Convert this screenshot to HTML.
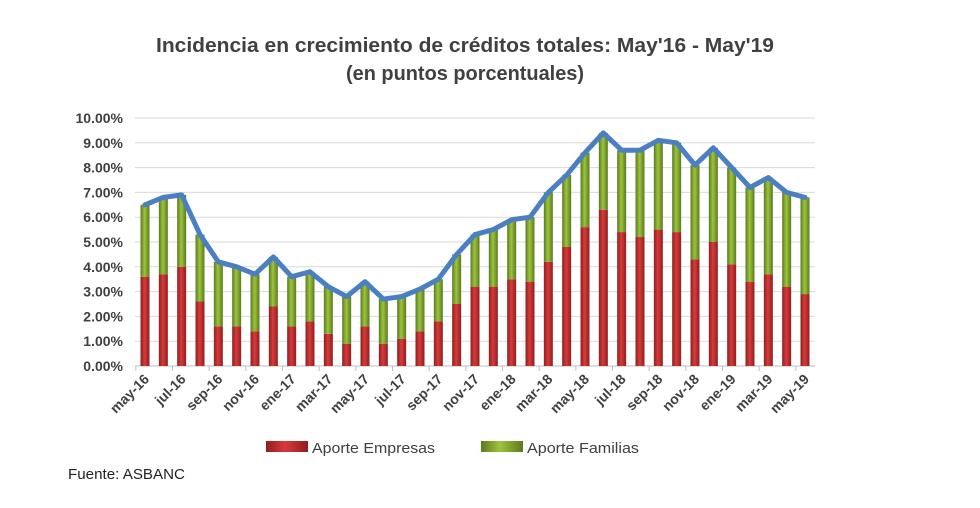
<!DOCTYPE html>
<html><head><meta charset="utf-8"><style>
body{margin:0;background:#fff;}
svg text{font-family:"Liberation Sans",sans-serif;}
</style></head><body>
<svg id="chart" width="980" height="503" xmlns="http://www.w3.org/2000/svg">
<defs>
<linearGradient id="gr" x1="0" x2="1"><stop offset="0" stop-color="#8e1f1f"/><stop offset="0.45" stop-color="#d83a3a"/><stop offset="1" stop-color="#8e1f1f"/></linearGradient>
<linearGradient id="gg" x1="0" x2="1"><stop offset="0" stop-color="#5a7a1f"/><stop offset="0.45" stop-color="#9cc43c"/><stop offset="1" stop-color="#5a7a1f"/></linearGradient>
</defs>
<text x="465" y="52" text-anchor="middle" font-size="20" font-weight="bold" fill="#404040" textLength="618" lengthAdjust="spacingAndGlyphs">Incidencia en crecimiento de créditos totales: May'16 - May'19</text>
<text x="465" y="80" text-anchor="middle" font-size="20" font-weight="bold" fill="#404040" textLength="238" lengthAdjust="spacingAndGlyphs">(en puntos porcentuales)</text>
<g id="grid"></g><g id="bars"></g><g id="line"></g><g id="xlab"></g>
<rect x="266" y="441" width="42" height="11" fill="url(#gr)"/>
<text x="312" y="453" font-size="15" fill="#404040" textLength="123" lengthAdjust="spacingAndGlyphs">Aporte Empresas</text>
<rect x="481" y="441" width="42" height="11" fill="url(#gg)"/>
<text x="527" y="453" font-size="15" fill="#404040" textLength="112" lengthAdjust="spacingAndGlyphs">Aporte Familias</text>
<text x="68" y="479" font-size="15" fill="#222" textLength="117" lengthAdjust="spacingAndGlyphs">Fuente: ASBANC</text>
</svg>
<script>
const categories=["may-16","jun-16","jul-16","ago-16","sep-16","oct-16","nov-16","dic-16","ene-17","feb-17","mar-17","abr-17","may-17","jun-17","jul-17","ago-17","sep-17","oct-17","nov-17","dic-17","ene-18","feb-18","mar-18","abr-18","may-18","jun-18","jul-18","ago-18","sep-18","oct-18","nov-18","dic-18","ene-19","feb-19","mar-19","abr-19","may-19"];
const empresas=[3.6,3.7,4.0,2.6,1.6,1.6,1.4,2.4,1.6,1.8,1.3,0.9,1.6,0.9,1.1,1.4,1.8,2.5,3.2,3.2,3.5,3.4,4.2,4.8,5.6,6.3,5.4,5.2,5.5,5.4,4.3,5.0,4.1,3.4,3.7,3.2,2.9];
const totales=[6.5,6.8,6.9,5.3,4.2,4.0,3.7,4.4,3.6,3.8,3.2,2.8,3.4,2.7,2.8,3.1,3.5,4.5,5.3,5.5,5.9,6.0,7.0,7.7,8.6,9.4,8.7,8.7,9.1,9.0,8.1,8.8,8.0,7.2,7.6,7.0,6.8];
const yTicks=[0,1,2,3,4,5,6,7,8,9,10];
const NS="http://www.w3.org/2000/svg";
const y0=366,y1=118,x0=145,step=(805-145)/36;
const y=v=>y0-(v/10)*(y0-y1);
const x=i=>x0+i*step;
function mk(t,a,p){const e=document.createElementNS(NS,t);for(const k in a)e.setAttribute(k,a[k]);p.appendChild(e);return e;}
const grid=document.getElementById('grid');
yTicks.forEach(t=>{
 const l=mk('line',{x1:135,x2:815,y1:y(t),y2:y(t),stroke:t===0?'#bfbfbf':'#d9d9d9','stroke-width':1},grid);
 
 
 const tx=mk('text',{x:123,y:y(t)+5,'text-anchor':'end','font-size':14,'font-weight':'bold',fill:'#404040'},grid);
 tx.textContent=t.toFixed(2)+'%';
 
 
});
const bars=document.getElementById('bars'),xl=document.getElementById('xlab');
categories.forEach((c,i)=>{
 const w=9,cx=x(i);
 const r=mk('rect',{x:cx-w/2,y:y(empresas[i]),width:w,height:y0-y(empresas[i]),fill:'url(#gr)'},bars);
 
 
 const g=mk('rect',{x:cx-w/2,y:y(totales[i]),width:w,height:y(empresas[i])-y(totales[i]),fill:'url(#gg)'},bars);
 
 
 if(i%2===0){
  const tk=mk('line',{x1:cx-step/2,x2:cx-step/2,y1:y0,y2:y0+5,stroke:'#bfbfbf'},xl);
  
  
  const t=mk('text',{x:cx+5,y:y0+14,'text-anchor':'end','font-size':14,'font-weight':'bold',fill:'#404040',transform:`rotate(-45 ${cx+5} ${y0+14})`},xl);
  t.textContent=c;
  
  
 }
});
const pl=mk('polyline',{points:totales.map((v,i)=>x(i)+','+y(v)).join(' '),fill:'none',stroke:'#4a7fc1','stroke-width':5,'stroke-linejoin':'round','stroke-linecap':'round'},document.getElementById('line'));


</script>
</body></html>
